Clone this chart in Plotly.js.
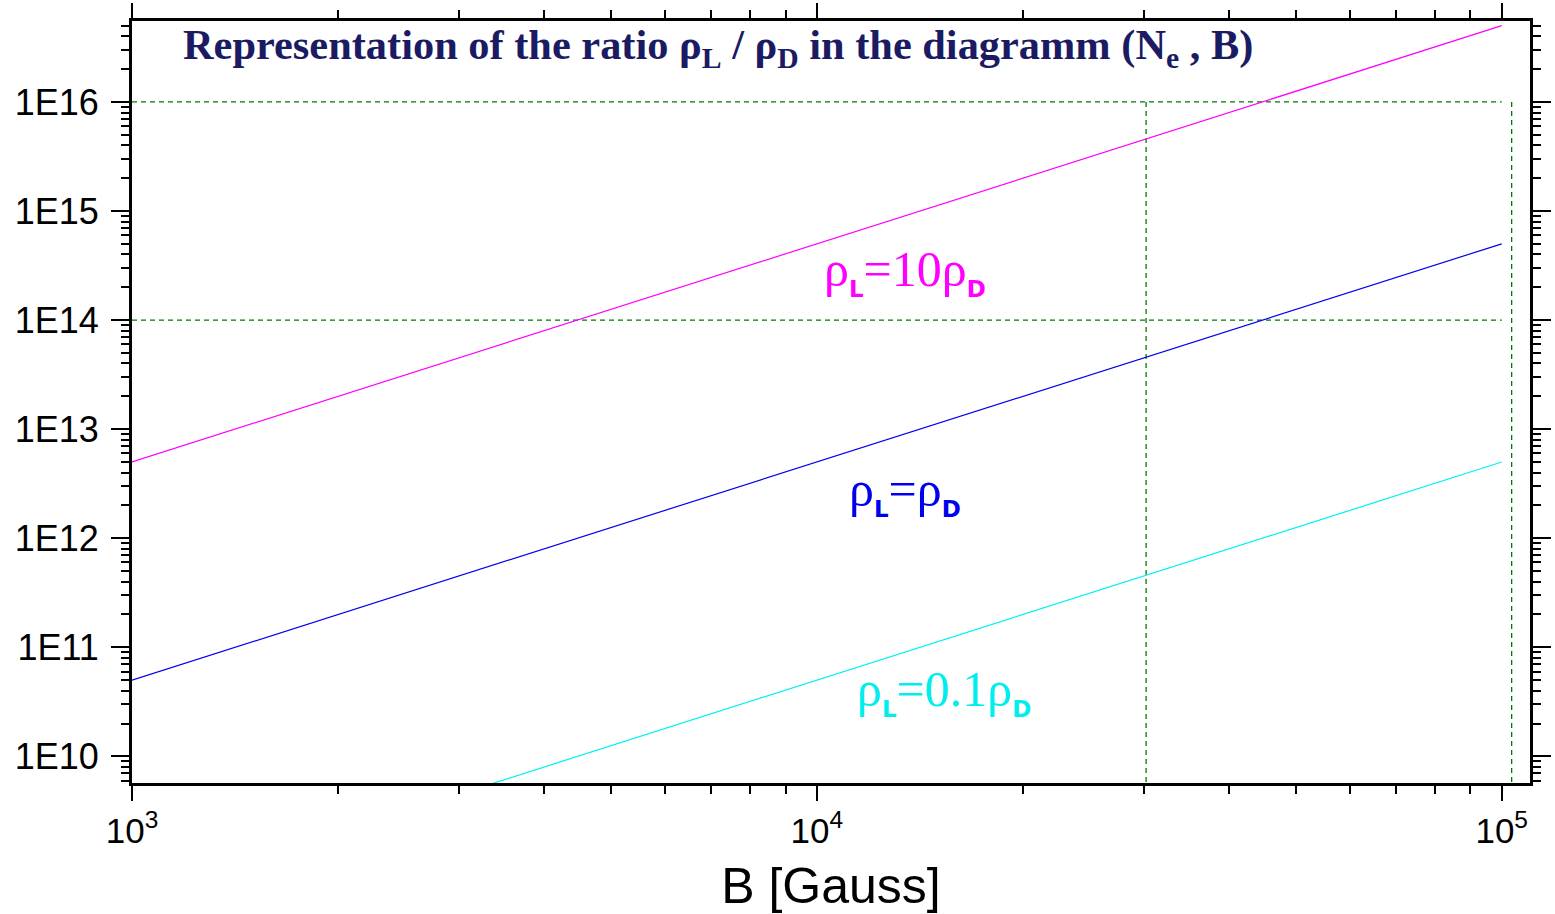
<!DOCTYPE html>
<html><head><meta charset="utf-8">
<script src="https://cdn.plot.ly/plotly-3.0.1.min.js"></script>
<style>html,body{margin:0;padding:0;background:#fff}#chart{width:1555px;height:914px}</style>
</head><body><div id="chart"></div>
<script>
// Data
const bField = [1000, 100000];
const neRatio10 = [5e12, 5e16];   // rho_L = 10 rho_D
const neRatio1 = [5e10, 5e14];    // rho_L = rho_D
const neRatio01 = [5e8, 5e12];    // rho_L = 0.1 rho_D
const guideNe = [1e16, 1e14];
const guideSpanB = [1000, 100000];
const guideB = [30250, 103400];
const guideSpanNe = [1e16, 5e9];
const xTickVals = [1e3, 1e4, 1e5];
const xTickText = ['10<sup>3</sup>', '10<sup>4</sup>', '10<sup>5</sup>'];
const yTickVals = [1e10, 1e11, 1e12, 1e13, 1e14, 1e15, 1e16];
const yTickText = ['1E10', '1E11', '1E12', '1E13', '1E14', '1E15', '1E16'];

const green = '#007a00';
const traces = [];
guideNe.forEach(n => traces.push({x: guideSpanB, y: [n, n], mode: 'lines', line: {color: green, width: 1.3, dash: '5px,4px'}, hoverinfo: 'skip'}));
guideB.forEach(b => traces.push({x: [b, b], y: guideSpanNe, mode: 'lines', line: {color: green, width: 1.3, dash: '5px,4px'}, hoverinfo: 'skip'}));
traces.push({x: bField, y: neRatio10, mode: 'lines', line: {color: '#ff00ff', width: 1.2}});
traces.push({x: bField, y: neRatio1, mode: 'lines', line: {color: '#0000ee', width: 1.2}});
traces.push({x: bField, y: neRatio01, mode: 'lines', line: {color: '#00f0f0', width: 1.2}});

const sub = s => '<sub><span style="font-family:DejaVu Sans;font-weight:bold;font-size:23px">' + s + '</span></sub>';
const serif = 'Liberation Serif, Times New Roman, serif';
const sans = 'Liberation Sans, Arial, sans-serif';

const axisCommon = {
  type: 'log', showline: true, linewidth: 3, linecolor: '#000', mirror: 'allticks',
  ticks: 'outside', tickwidth: 2, tickcolor: '#000', showgrid: false, zeroline: false,
  tickmode: 'array',
  minor: {ticks: 'outside', ticklen: 8, tickwidth: 2, tickcolor: '#000', dtick: 'D1', showgrid: false}
};

const layout = {
  width: 1555, height: 914,
  margin: {l: 132, r: 25, t: 21, b: 131},
  paper_bgcolor: '#fff', plot_bgcolor: '#fff',
  showlegend: false,
  title: {
    text: '<b>Representation of the ratio ρ<sub>L</sub> / ρ<sub>D</sub> in the diagramm (N<sub>e</sub> , B)</b>',
    font: {family: serif, size: 42.4, color: '#1b1b63'},
    x: (183 - 132) / 1398, xref: 'paper', xanchor: 'left',
    y: 1 - 44 / 914, yref: 'container', yanchor: 'middle'
  },
  xaxis: Object.assign({}, axisCommon, {
    range: [3, 5.0413], tickvals: xTickVals, ticktext: xTickText, ticklen: 15,
    tickfont: {family: sans, size: 35, color: '#000'},
    title: {text: 'B [Gauss]', font: {family: sans, size: 50, color: '#000'}, standoff: 38}
  }),
  yaxis: Object.assign({}, axisCommon, {
    range: [9.756, 16.742], tickvals: yTickVals, ticktext: yTickText, ticklen: 18,
    ticklabelstandoff: 5,
    tickfont: {family: sans, size: 36, color: '#000'}
  }),
  annotations: [
    {text: 'ρ' + sub('L') + '=10ρ' + sub('D'), xref: 'paper', yref: 'paper', x: 0.4937, y: 0.671,
     xanchor: 'left', yanchor: 'middle', showarrow: false, font: {family: serif, size: 50, color: '#ff00ff'}},
    {text: 'ρ' + sub('L') + '=ρ' + sub('D'), xref: 'paper', yref: 'paper', x: 0.5116, y: 0.3826,
     xanchor: 'left', yanchor: 'middle', showarrow: false, font: {family: serif, size: 50, color: '#0000ee'}},
    {text: 'ρ' + sub('L') + '=0.1ρ' + sub('D'), xref: 'paper', yref: 'paper', x: 0.5173, y: 0.1203,
     xanchor: 'left', yanchor: 'middle', showarrow: false, font: {family: serif, size: 50, color: '#00eeee'}}
  ]
};

Plotly.newPlot('chart', traces, layout, {displayModeBar: false, staticPlot: true});
</script>
</body></html>
